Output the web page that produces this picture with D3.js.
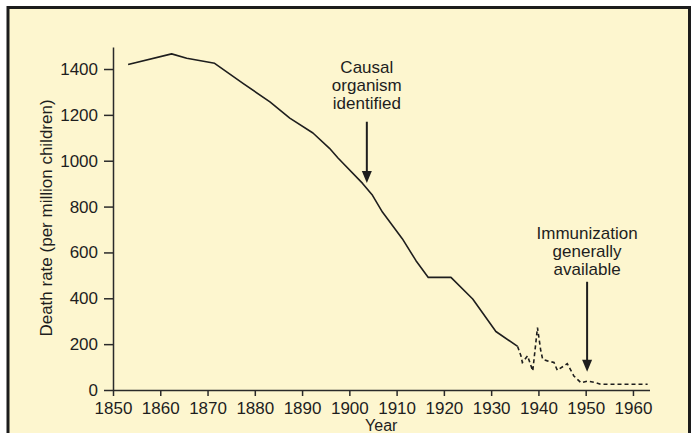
<!DOCTYPE html>
<html>
<head>
<meta charset="utf-8">
<script src="https://cdn.jsdelivr.net/npm/d3@7"></script>
<style>
  body { margin: 0; background: #ffffff; }
  svg { display: block; font-family: "Liberation Sans", Arial, Helvetica, sans-serif; }
  .axis path, .axis line { stroke: #2a2a2a; stroke-width: 1.5; }
  .axis text { fill: #1e1e1e; font-size: 17px; }
</style>
</head>
<body>
<script>
(function(){

//solid part of the curve (reported deaths)
var solidYears = [1853.2, 1862.4, 1865.6, 1871.5, 1877.5, 1883.2, 1887.4, 1892.3, 1895.8, 1897.6,
                  1902.8, 1904.9, 1907, 1911.2, 1914.1, 1916.7, 1921.5, 1926.1, 1931, 1935.6];
var solidRates = [1420, 1466, 1447, 1425, 1337, 1257, 1186, 1121, 1054, 1012,
                  901, 849, 776, 660, 564, 491, 491, 397, 255, 190];

//dashed part of the curve
var dashedYears = [1935.6, 1936.3, 1936.6, 1937.7, 1938.8, 1939.8, 1940.5, 1940.9, 1941.9, 1943.3,
                   1944, 1946.1, 1947.5, 1949, 1950.4, 1952.1, 1953.2, 1963.1];
var dashedRates = [190, 149, 120, 149, 83, 272, 171, 134, 127, 120,
                   86, 115, 61, 32, 39, 32, 25, 25];

//tick labels
var xTicks = [1850, 1860, 1870, 1880, 1890, 1900, 1910, 1920, 1930, 1940, 1950, 1960];
var yTicks = [0, 200, 400, 600, 800, 1000, 1200, 1400];

//annotations: year of the arrow, text lines, value of first text baseline, arrow top and tip values
var noteYears = [1903.7, 1950.3];
var noteLines = [["Causal", "organism", "identified"], ["Immunization", "generally", "available"]];
var noteTextRates = [1382, 660];
var noteTopRates = [1170, 472];
var noteTipRates = [903, 80];

//frame dimensions
var width = 695,
    height = 433;

var svg = d3.select("body")
    .append("svg")
    .attr("width", width)
    .attr("height", height);

//cream panel with dark border (bottom edge cropped)
svg.append("rect")
    .attr("x", 8)
    .attr("y", 7.5)
    .attr("width", 681.5)
    .attr("height", 450)
    .attr("fill", "#fdf6cf")
    .attr("stroke", "#1c1c1c")
    .attr("stroke-width", 3);

//scales
var x = d3.scaleLinear()
    .domain([1850, 1963.5])
    .range([113, 649.5]);

var y = d3.scaleLinear()
    .domain([0, 1496])
    .range([390, 47]);

//axes
svg.append("g")
    .attr("class", "axis")
    .attr("transform", "translate(0," + y(0) + ")")
    .call(d3.axisBottom(x)
        .tickValues(xTicks)
        .tickFormat(d3.format("d"))
        .tickSize(6)
        .tickSizeOuter(0)
        .tickPadding(6));

svg.append("g")
    .attr("class", "axis")
    .attr("transform", "translate(" + x(1850) + ",0)")
    .call(d3.axisLeft(y)
        .tickValues(yTicks)
        .tickFormat(d3.format("d"))
        .tickSize(9)
        .tickSizeOuter(0)
        .tickPadding(6));

//axis titles
svg.append("text")
    .attr("x", (x.range()[0] + x.range()[1]) / 2)
    .attr("y", 431)
    .attr("text-anchor", "middle")
    .attr("font-size", 16)
    .attr("fill", "#1e1e1e")
    .text("Year");

svg.append("text")
    .attr("transform", "translate(52,218) rotate(-90)")
    .attr("text-anchor", "middle")
    .attr("font-size", 17)
    .attr("fill", "#1e1e1e")
    .text("Death rate (per million children)");

//line generator
var line = d3.line()
    .x(function(d){ return x(d[0]); })
    .y(function(d){ return y(d[1]); });

svg.append("path")
    .datum(d3.zip(solidYears, solidRates))
    .attr("d", line)
    .attr("fill", "none")
    .attr("stroke", "#1e1e1e")
    .attr("stroke-width", 1.6)
    .attr("stroke-linejoin", "round");

svg.append("path")
    .datum(d3.zip(dashedYears, dashedRates))
    .attr("d", line)
    .attr("fill", "none")
    .attr("stroke", "#1e1e1e")
    .attr("stroke-width", 1.6)
    .attr("stroke-dasharray", "4,3");

//annotations with arrows
noteYears.forEach(function(yr, i){
    var ax = x(yr),
        top = y(noteTopRates[i]),
        tip = y(noteTipRates[i]);

    var t = svg.append("text")
        .attr("text-anchor", "middle")
        .attr("font-size", 17)
        .attr("fill", "#1e1e1e");
    noteLines[i].forEach(function(s, k){
        t.append("tspan")
            .attr("x", ax)
            .attr("y", y(noteTextRates[i]) + k * 18)
            .text(s);
    });

    svg.append("line")
        .attr("x1", ax).attr("x2", ax)
        .attr("y1", top).attr("y2", tip - 8)
        .attr("stroke", "#1e1e1e")
        .attr("stroke-width", 2);

    svg.append("path")
        .attr("d", "M" + (ax - 5) + "," + (tip - 12) + "L" + (ax + 5) + "," + (tip - 12) + "L" + ax + "," + tip + "Z")
        .attr("fill", "#1e1e1e");
});

})();
</script>
</body>
</html>
